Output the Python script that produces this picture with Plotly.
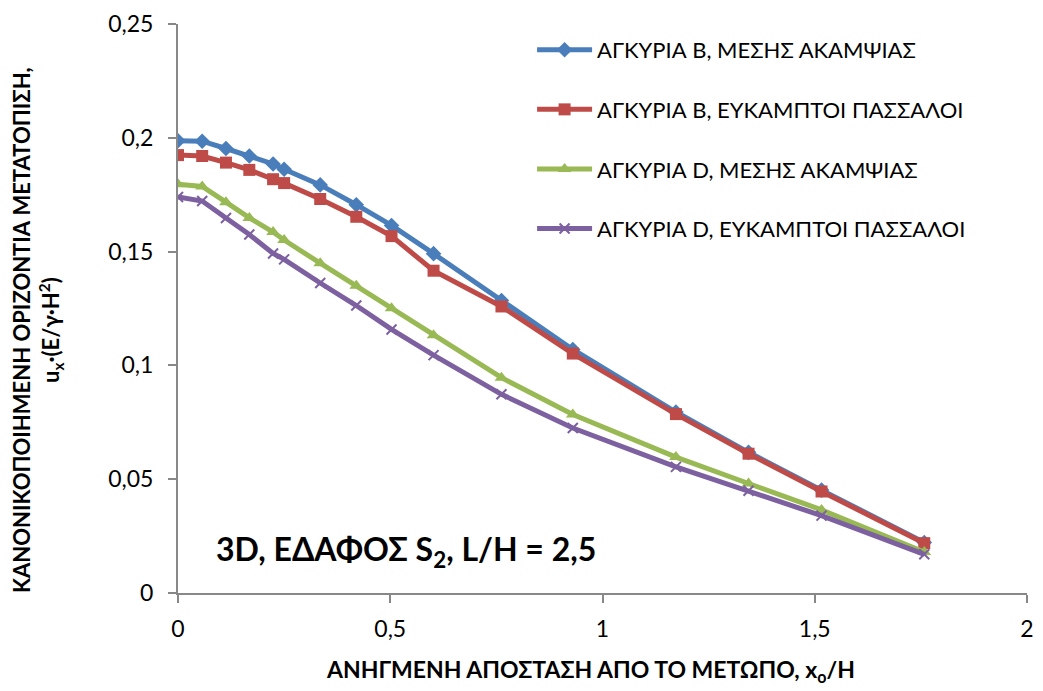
import plotly.graph_objects as go

# Normalised distance from the face, x_o/H
x_vals = [0, 0.057, 0.113, 0.168, 0.224, 0.25, 0.335, 0.42, 0.503, 0.602, 0.762, 0.93, 1.173, 1.344, 1.516, 1.758]

# Normalised horizontal displacement for each anchorage / pile case
anchor_b_mean = [0.1987, 0.1985, 0.1953, 0.192, 0.1885, 0.1862, 0.1793, 0.1706, 0.1615, 0.1491, 0.1285, 0.107, 0.0795, 0.0618, 0.0452, 0.0222]
anchor_b_flex = [0.1924, 0.192, 0.1891, 0.1859, 0.1818, 0.1801, 0.1731, 0.1653, 0.1568, 0.1416, 0.1259, 0.1052, 0.0786, 0.0612, 0.0446, 0.0219]
anchor_d_mean = [0.1796, 0.1786, 0.1717, 0.1648, 0.1586, 0.1551, 0.1449, 0.135, 0.1251, 0.1132, 0.0946, 0.0784, 0.0597, 0.0481, 0.0365, 0.018]
anchor_d_flex = [0.174, 0.1722, 0.1648, 0.1575, 0.1492, 0.1466, 0.1362, 0.1263, 0.1158, 0.1045, 0.0873, 0.0725, 0.0554, 0.0449, 0.034, 0.017]

names = [
    "ΑΓΚΥΡΙΑ Β, ΜΕΣΗΣ ΑΚΑΜΨΙΑΣ",
    "ΑΓΚΥΡΙΑ Β, ΕΥΚΑΜΠΤΟΙ ΠΑΣΣΑΛΟΙ",
    "ΑΓΚΥΡΙΑ D, ΜΕΣΗΣ ΑΚΑΜΨΙΑΣ",
    "ΑΓΚΥΡΙΑ D, ΕΥΚΑΜΠΤΟΙ ΠΑΣΣΑΛΟΙ",
]
series = [anchor_b_mean, anchor_b_flex, anchor_d_mean, anchor_d_flex]
colors = ["#4A7EBB", "#BE4B48", "#98B954", "#7D60A0"]
symbols = ["diamond", "square", "triangle-up", "x-thin-open"]
sizes = [12, 12, 12, 10]

FONT = "Lato, 'Noto Sans', sans-serif"

# plot area in pixels
L, R, T, B = 178, 9, 20, 98
W, H = 1043, 691
PW, PH = W - L - R, H - T - B


def px_x(px):
    return (px - L) / PW


def px_y(py):
    return (H - B - py) / PH


fig = go.Figure()
for i, (nm, ys) in enumerate(zip(names, series)):
    marker = dict(symbol=symbols[i], size=sizes[i], color=colors[i])
    if symbols[i] == "x-thin-open":
        marker["line"] = dict(color=colors[i], width=2)
    fig.add_trace(go.Scatter(
        x=x_vals, y=ys, name=nm, mode="lines+markers",
        line=dict(color=colors[i], width=5),
        marker=marker, legendgroup=f"g{i}",
    ))

axis_common = dict(
    showgrid=False, zeroline=False, showline=True, linecolor="#888888", linewidth=2,
    ticks="outside", ticklen=8, tickcolor="#888888", tickwidth=2,
    tickfont=dict(family=FONT, size=23, color="black"),
)

fig.update_layout(
    width=W, height=H,
    margin=dict(l=L, r=R, t=T, b=B),
    paper_bgcolor="white", plot_bgcolor="white",
    separators=",.",
    font=dict(family=FONT, color="black"),
    xaxis=dict(range=[0, 2], dtick=0.5, ticklabelstandoff=6, **axis_common),
    yaxis=dict(range=[0, 0.25], dtick=0.05, ticklabelstandoff=10, **axis_common),
    legend=dict(
        x=px_x(535), y=px_y(25), xanchor="left", yanchor="top",
        font=dict(family=FONT, size=22, color="black"),
        bgcolor="rgba(0,0,0,0)", itemwidth=55,
        tracegroupgap=28, traceorder="grouped",
    ),
    showlegend=True,
)

fig.add_annotation(
    x=px_x(214), y=px_y(551), xref="paper", yref="paper", showarrow=False,
    text="<b>3D, ΕΔΑΦΟΣ S<sub>2</sub>, L/H = 2,5</b>",
    font=dict(family=FONT, size=32, color="black"),
    xanchor="left", yanchor="middle",
)
fig.add_annotation(
    x=px_x(594), y=px_y(671), xref="paper", yref="paper", showarrow=False,
    text="<b>ΑΝΗΓΜΕΝΗ ΑΠΟΣΤΑΣΗ ΑΠΟ ΤΟ ΜΕΤΩΠΟ, x<sub>o</sub>/H</b>",
    font=dict(family=FONT, size=23, color="black"),
    xanchor="center", yanchor="middle",
)
fig.add_annotation(
    x=px_x(36), y=px_y(328), xref="paper", yref="paper", showarrow=False,
    text="<b>ΚΑΝΟΝΙΚΟΠΟΙΗΜΕΝΗ ΟΡΙΖΟΝΤΙΑ ΜΕΤΑΤΟΠΙΣΗ,<br>u<sub>x</sub>·(E/γ·H<sup>2</sup>)</b>",
    font=dict(family=FONT, size=22, color="black"),
    textangle=-90, xanchor="center", yanchor="middle",
)

fig.write_html("out.html")
